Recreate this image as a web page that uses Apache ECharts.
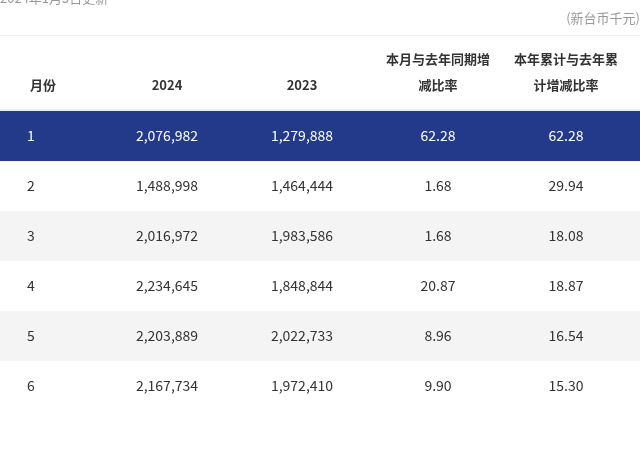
<!DOCTYPE html>
<html><head><meta charset="utf-8">
<script src="https://cdn.jsdelivr.net/npm/echarts@6/dist/echarts.min.js"></script>
<style>html,body{margin:0;padding:0;background:#fff}#c{width:640px;height:454px}</style>
</head><body><div id="c"></div>
<script>
var months = ['1', '2', '3', '4', '5', '6'];
var rev2024 = ['2,076,982', '1,488,998', '2,016,972', '2,234,645', '2,203,889', '2,167,734'];
var rev2023 = ['1,279,888', '1,464,444', '1,983,586', '1,848,844', '2,022,733', '1,972,410'];
var monthYoY = ['62.28', '1.68', '1.68', '20.87', '8.96', '9.90'];
var ytdYoY = ['62.28', '29.94', '18.08', '18.87', '16.54', '15.30'];
var headers = ['月份', '2024', '2023', '本月与去年同期增\n减比率', '本年累计与去年累\n计增减比率'];

var chart = echarts.init(document.getElementById('c'));
var font = '"Noto Sans CJK SC", "Noto Sans", sans-serif';
var colX = [30, 167, 302, 438, 566];
var rowTop = 111, rowH = 50;
var els = [];

// 标题(被截掉一半)与单位
els.push({ type: 'text', left: 0, top: -8, style: { text: '2024年1月5日更新', fill: '#999', font: '13px ' + font } });
els.push({ type: 'text', right: 0, top: 12, style: { text: '(新台币千元)', fill: '#999', font: '13px ' + font } });
els.push({ type: 'rect', shape: { x: 0, y: 35, width: 640, height: 1 }, style: { fill: '#eee' } });

headers.forEach(function (h, i) {
  var two = h.indexOf('\n') >= 0;
  els.push({ type: 'text', x: colX[i], y: two ? 72 : 85,
    style: { text: h, fill: '#333', font: 'bold 13px ' + font, align: i === 0 ? 'left' : 'center',
      verticalAlign: 'middle', lineHeight: 26 } });
});
els.push({ type: 'rect', shape: { x: 0, y: 109, width: 640, height: 2 }, style: { fill: '#e8eef8' } });

var cols = [months, rev2024, rev2023, monthYoY, ytdYoY];
months.forEach(function (m, r) {
  var y = rowTop + r * rowH;
  var bg = r === 0 ? '#233a8b' : (r % 2 === 0 ? '#f4f4f4' : '#fff');
  els.push({ type: 'rect', shape: { x: 0, y: y, width: 640, height: rowH }, style: { fill: bg } });
  cols.forEach(function (col, i) {
    els.push({ type: 'text', x: i === 0 ? 27 : colX[i], y: y + rowH / 2,
      style: { text: col[r], fill: r === 0 ? '#fff' : '#333', font: '14px ' + font,
        align: i === 0 ? 'left' : 'center', verticalAlign: 'middle' } });
  });
});

chart.setOption({ animation: false, graphic: { elements: els } });
</script>
</body></html>
